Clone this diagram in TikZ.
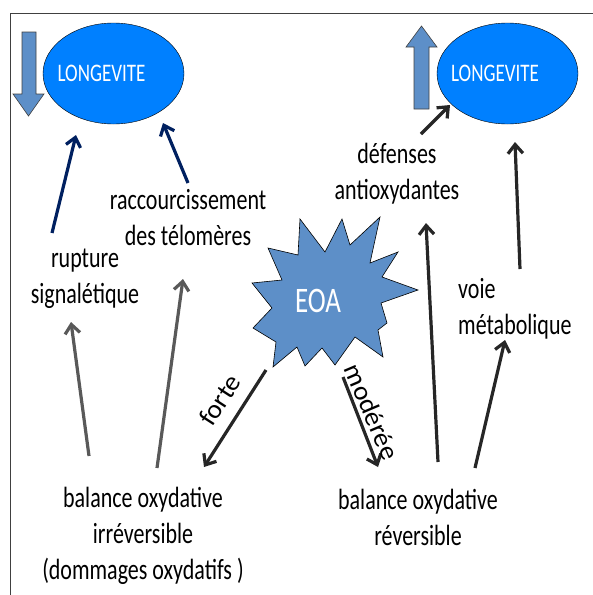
\documentclass[tikz,border=0pt]{standalone}
\usepackage{fontspec}
\setmainfont{Carlito}
\usetikzlibrary{arrows.meta,shapes.geometric}
\definecolor{longblue}{RGB}{0,128,255}
\definecolor{eoablue}{RGB}{93,143,200}
\definecolor{navyline}{RGB}{0,32,96}
\definecolor{grayline}{RGB}{89,89,89}
\definecolor{darkline}{RGB}{38,38,38}
\definecolor{frameline}{RGB}{64,64,64}
% texte etire verticalement
\newcommand{\tallc}[1]{\scalebox{1}[1.33]{\begin{tabular}{@{}c@{}}#1\end{tabular}}}
\newcommand{\talll}[1]{\scalebox{1}[1.33]{\begin{tabular}{@{}l@{}}#1\end{tabular}}}
\begin{document}
\begin{tikzpicture}[x=1pt,y=-1pt,
  txt/.style={font=\fontsize{22}{27}\selectfont,inner sep=0pt},
  longnode/.style={ellipse,draw=black,fill=longblue,text=white,minimum width=141pt,minimum height=101pt,inner sep=0pt,font=\fontsize{19}{19}\selectfont},
  bigarrow/.style={fill=eoablue,draw=frameline,line width=0.6pt},
  arr/.style={line width=3.2pt,-{Straight Barb[length=9pt,width=15pt]}},
  navyarr/.style={arr,navyline},
  grayarr/.style={arr,grayline},
  darkarr/.style={arr,darkline}]
\useasboundingbox (0,0) rectangle (593,595);
\draw[frameline,line width=1pt] (10,595) -- (10,13) -- (593,13);

% longevite
\node[longnode] (longL) at (113.5,73.5) {\hspace*{-24pt}\scalebox{1}[1.33]{LONGEVITE}};
\node[longnode] (longR) at (507.5,73.5) {\hspace*{-25pt}\scalebox{1}[1.33]{LONGEVITE}};
\draw[bigarrow] (22,32) -- (36,32) -- (36,94) -- (44,94) -- (28.5,116) -- (13,94) -- (22,94) -- cycle;
\draw[bigarrow] (414,109) -- (429,109) -- (429,47) -- (437,47) -- (421.5,26) -- (406,47) -- (414,47) -- cycle;

% EOA
\draw[bigarrow,draw=black] plot coordinates {(300,219) (325,252) (342,219) (350,245) (380,217) (370,263)
  (398,252) (382,277) (418,290) (381,303) (387,323) (378,330) (383,357) (355,337) (335,365) (322,348)
  (305,366) (297,347) (273,367) (276,342) (253,328) (272,308) (252,283) (282,280) (268,248) (298,255)} -- cycle;
\node[text=white,font=\fontsize{27}{27}\selectfont] (eoa) at (318,301) {\scalebox{1}[1.33]{EOA}};

% textes
\node[txt] (racc) at (188,220) {\tallc{raccourcissement\\des télomères}};
\node[txt] (rupt) at (85,278) {\tallc{rupture\\signalétique}};
\node[txt] (balL) at (143,536) {\tallc{balance oxydative\\irréversible\\(dommages oxydatifs )}};
\node[txt] (balR) at (418,520) {\tallc{balance oxydative\\réversible}};
\node[txt] (def) at (397,174) {\tallc{défenses\\antioxydantes}};
\node[txt,anchor=west] (voie) at (458,309) {\talll{voie\\métabolique}};

% fleches
\draw[navyarr] ([shift={(-33,-45)}]rupt.center) -- ([shift={(-37.5,61.5)}]longL.center);
\draw[navyarr] ([shift={(0,-37)}]racc.center) -- ([shift={(49.5,49.5)}]longL.center);
\draw[grayarr] ([shift={(-54,-80)}]balL.center) -- ([shift={(-14,44)}]rupt.center);
\draw[grayarr] ([shift={(14,-68)}]balL.center) -- ([shift={(-5,59)}]racc.center);
\draw[darkarr] ([shift={(-52,69)}]eoa.center) -- ([shift={(61,-69)}]balL.center);
\draw[darkarr] ([shift={(25,76)}]eoa.center) -- ([shift={(-40,-53)}]balR.center);
\draw[darkarr] ([shift={(20,-58)}]balR.center) -- ([shift={(29,49)}]def.center);
\draw[darkarr] ([shift={(57,-52)}]balR.center) -- ([shift={(47,31)}]voie.west);
\draw[darkarr] ([shift={(24,-40)}]def.center) -- ([shift={(-57.5,31.5)}]longR.center);
\draw[darkarr] ([shift={(62,-40)}]voie.west) -- ([shift={(7.5,68.5)}]longR.center);

\node[txt,rotate=57] (forte) at (220,400) {\scalebox{1.25}[1.2]{forte}};
\node[txt,rotate=-67] (mod) at (372,412) {\scalebox{1.25}[1.2]{modérée}};
\end{tikzpicture}
\end{document}
